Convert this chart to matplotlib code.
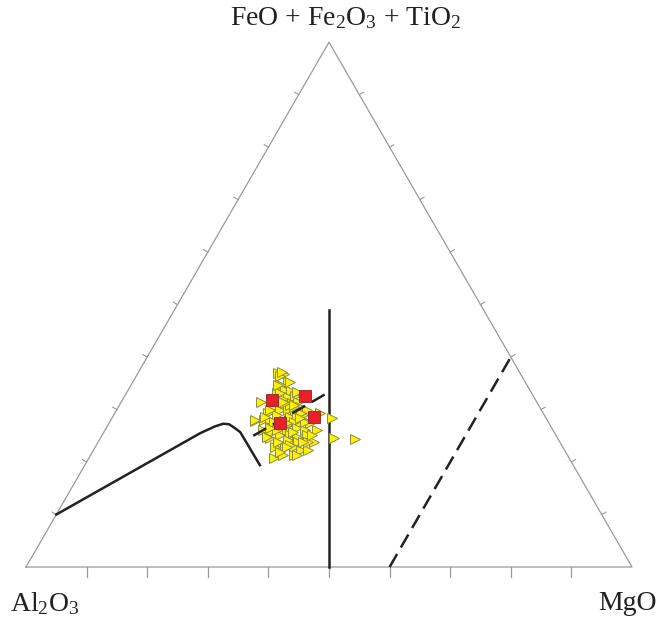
import matplotlib.pyplot as plt
import numpy as np

plt.rcParams['font.family'] = 'Liberation Serif'
plt.rcParams['mathtext.fontset'] = 'custom'
plt.rcParams['mathtext.rm'] = 'Liberation Serif'
plt.rcParams['mathtext.it'] = 'Liberation Serif:italic'

# samples, wt% of FeO+Fe2O3+TiO2 (fet) and MgO (mg); Al2O3 is the rest
fet = [37.0, 36.8, 36.3, 35.3, 34.7, 33.8, 33.6, 33.1, 31.5, 32.4,
       32.6, 31.8, 31.3, 31.5, 30.5, 30.5, 30.0, 29.9, 29.6, 29.3,
       28.9, 27.9, 28.0, 28.0, 28.6, 28.6, 28.9, 29.9, 29.3, 27.4,
       27.4, 27.7, 27.1, 26.7, 26.1, 25.8, 26.1, 26.4, 26.1, 26.1,
       25.1, 25.1, 24.8, 25.1, 24.5, 23.9, 24.2, 23.9, 23.9, 22.9,
       22.6, 22.9, 22.3, 22.2, 21.6, 20.7, 21.3, 26.1, 30.9, 31.8,
       28.3, 24.6, 24.3, 33.1, 27.1, 27.7, 31.2, 24.8, 23.9, 23.2,
       29.3, 30.5, 27.7, 25.1, 21.3, 37.2, 35.3, 34.7, 33.4, 31.5,
       30.9, 29.9, 28.6, 28.3, 27.4, 25.8, 23.9, 22.9, 23.9, 21.3,
       22.0, 26.4, 28.0]
mg = [23.1, 24.1, 23.8, 25.6, 24.8, 25.8, 27.0, 24.8, 23.0, 27.1,
      28.1, 26.6, 28.2, 29.2, 30.0, 25.6, 26.9, 28.3, 29.6, 25.3,
      26.9, 23.8, 25.2, 26.3, 29.3, 30.4, 31.3, 31.4, 33.9, 33.2,
      31.5, 30.3, 29.5, 26.9, 26.1, 27.6, 30.0, 31.5, 33.0, 34.9,
      29.4, 31.0, 32.3, 33.8, 28.0, 29.7, 31.2, 33.0, 35.5, 29.6,
      31.4, 32.7, 34.3, 35.5, 31.1, 30.5, 33.5, 28.3, 28.1, 24.9,
      36.3, 38.5, 42.1, 25.4, 28.9, 32.2, 27.1, 27.3, 34.6, 32.0,
      30.8, 28.9, 27.0, 34.6, 31.8, 23.6, 25.9, 24.3, 28.0, 26.7,
      28.7, 25.3, 25.1, 31.1, 29.3, 31.2, 29.7, 31.6, 33.8, 34.0,
      30.9, 27.1, 23.8]

# second group
fet_sq = [31.9, 32.6, 28.5, 27.4]
mg_sq = [24.6, 29.7, 33.2, 28.2]

# field boundaries (fet, mg)
curve_fet = [10.0, 25.5, 26.8, 27.3, 27.2, 26.6, 25.7, 19.4]
curve_mg = [0.0, 16.0, 17.8, 18.9, 19.9, 21.0, 22.5, 28.9]
dash_fet = [25.0, 33.3]
dash_mg = [25.0, 33.3]
mid_fet = [0.0, 49.0]
mid_mg = [50.0, 25.5]
right_fet = [0.0, 40.0]
right_mg = [60.0, 60.0]


def tern(t, m):
    t = np.asarray(t) / 100.0
    m = np.asarray(m) / 100.0
    return m + t / 2, t * np.sqrt(3) / 2


fig = plt.figure(figsize=(6.63, 6.22), dpi=100)
ax = fig.add_axes([0, 0, 1, 1])
ax.set_xlim(-26 / 606, 1 + 31 / 606)
ax.set_ylim(-55 / 606, 567 / 606)
ax.axis('off')

h = np.sqrt(3) / 2
ax.plot([0, 1, 0.5, 0], [0, 0, h, 0], color='#9a9a9a', lw=0.9)

# ticks every 10 %
for k in range(1, 10):
    f = k / 10
    ax.plot([f, f], [0, -0.017], color='#9a9a9a', lw=0.9)
    lx, ly = f / 2, f * h
    ax.plot([lx, lx - 0.008 * h], [ly, ly + 0.004], color='#9a9a9a', lw=0.8)
    rx, ry = 1 - f / 2, f * h
    ax.plot([rx, rx + 0.008 * h], [ry, ry + 0.004], color='#9a9a9a', lw=0.8)

x, y = tern(curve_fet, curve_mg)
ax.plot(x, y, color='#222222', lw=1.8, solid_joinstyle='round')
x, y = tern(mid_fet, mid_mg)
ax.plot(x, y, color='#222222', lw=1.8)
x, y = tern(right_fet, right_mg)
ax.plot(x, y, color='#222222', lw=1.8, dashes=(6, 3))

x, y = tern(fet, mg)
ax.plot(x, y, '>', ms=7, mfc='#fff200', mec='#8c8a4a', mew=0.7, ls='none')
x, y = tern(dash_fet, dash_mg)
ax.plot(x, y, color='#222222', lw=1.8, dashes=(6, 3))
x, y = tern(fet_sq, mg_sq)
ax.plot(x, y, 's', ms=8, mfc='#e8202a', mec='#9a3030', mew=0.7, ls='none')

fig.text(346 / 663, 1 - 18 / 622, r'FeO + Fe$_2$O$_3$ + TiO$_2$',
         ha='center', va='center', fontsize=20, color='#222222')
fig.text(10 / 663, 1 - 604 / 622, r'Al$_2$O$_3$', ha='left', va='center',
         fontsize=20, color='#222222')
fig.text(657 / 663, 1 - 604 / 622, 'MgO', ha='right', va='center',
         fontsize=20, color='#222222')

fig.savefig('out.png', dpi=100)
